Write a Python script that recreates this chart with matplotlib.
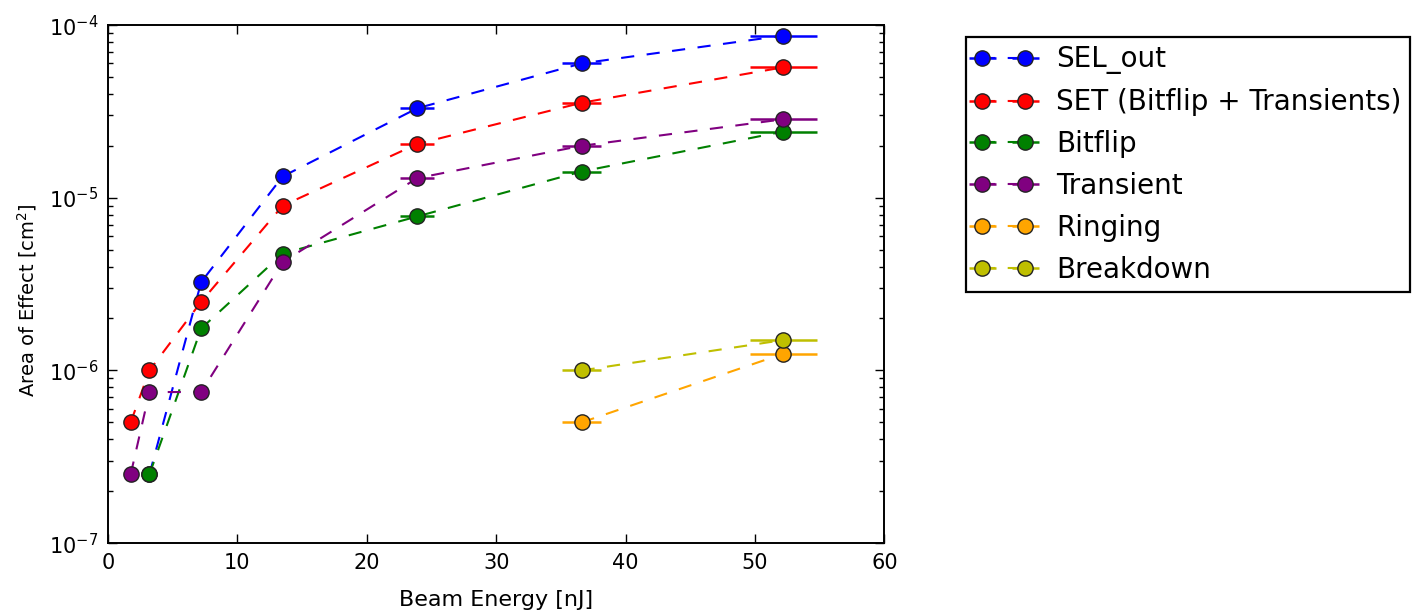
import matplotlib
matplotlib.use("Agg")
import matplotlib.pyplot as plt

# Beam energies [nJ] and horizontal uncertainty on each energy
energy = [1.75, 3.2, 7.2, 13.5, 23.9, 36.6, 52.2]
energy_err = [0.1, 0.15, 0.35, 0.6, 1.3, 1.5, 2.6]

# Measured area of effect [cm^2] per effect type
sel_out = [None, 2.5e-7, 3.25e-6, 1.33e-5, 3.3e-5, 6.0e-5, 8.7e-5]
set_total = [5.0e-7, 1.0e-6, 2.5e-6, 9.0e-6, 2.05e-5, 3.55e-5, 5.7e-5]
bitflip = [None, 2.5e-7, 1.75e-6, 4.75e-6, 7.8e-6, 1.42e-5, 2.42e-5]
transient = [2.5e-7, 7.5e-7, 7.5e-7, 4.25e-6, 1.3e-5, 2.0e-5, 2.85e-5]
ringing = [None, None, None, None, None, 5.0e-7, 1.25e-6]
breakdown = [None, None, None, None, None, 1.0e-6, 1.5e-6]

labels = ["SEL_out", "SET (Bitflip + Transients)", "Bitflip", "Transient",
          "Ringing", "Breakdown"]
colors = ["#0000ff", "#ff0000", "#008000", "#800080", "#ffa500", "#bfbf00"]
series = [sel_out, set_total, bitflip, transient, ringing, breakdown]

plt.rcParams["font.family"] = "DejaVu Sans"
plt.rcParams["lines.scale_dashes"] = False

fig = plt.figure(figsize=(14.14, 6.13), dpi=100)
ax = fig.add_axes([0.0764, 0.114, 0.549, 0.845])

for vals, lab, col in zip(series, labels, colors):
    xs = [e for e, v in zip(energy, vals) if v is not None]
    xe = [d for d, v in zip(energy_err, vals) if v is not None]
    ys = [v for v in vals if v is not None]
    c = ax.errorbar(xs, ys, xerr=xe, fmt="o", color=col,
                    elinewidth=1.8, capsize=0, markersize=11,
                    markeredgecolor="#222222", markeredgewidth=1.0,
                    label=lab)
    line = c.lines[0]
    line.set_linestyle((0, (9.5, 9.0)))
    line.set_linewidth(1.5)

ax.set_yscale("log")
ax.set_xlim(0, 60)
ax.set_ylim(1e-7, 1e-4)
ax.set_xlabel("Beam Energy [nJ]", fontsize=16, labelpad=12)
ax.set_ylabel("Area of Effect [cm$^2$]", fontsize=14)
ax.yaxis.set_label_coords(-0.089, 0.47)
ax.tick_params(which="both", direction="in", top=True, right=True,
               labelsize=15)
ax.tick_params(which="major", length=6.5, width=1, pad=7)
ax.tick_params(which="minor", length=3.5, width=1)
for s in ax.spines.values():
    s.set_linewidth(1.4)

leg = ax.legend(loc="upper left", bbox_to_anchor=(0.683, 0.9396),
                bbox_transform=fig.transFigure, borderaxespad=0,
                numpoints=2, fontsize=20, fancybox=False, framealpha=1,
                handlelength=2.15, handletextpad=0.8, labelspacing=0.5,
                borderpad=0.3)
leg.get_frame().set_edgecolor("black")
leg.get_frame().set_linewidth(1.6)

fig.savefig("out.png", dpi=100)
